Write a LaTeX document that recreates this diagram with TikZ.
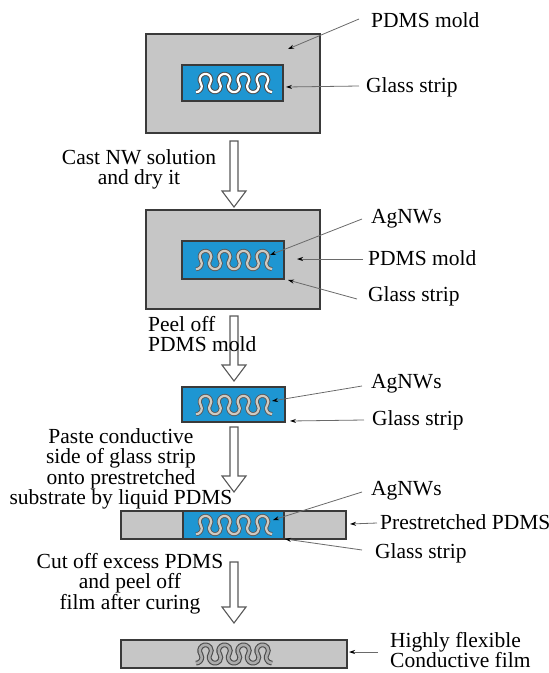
\documentclass[tikz,border=0pt]{standalone}
\usepackage{fontspec}
\setmainfont{Liberation Serif}
\usetikzlibrary{arrows.meta,calc}
\definecolor{pdms}{HTML}{C6C6C6}
\definecolor{glass}{HTML}{1E96D2}
\definecolor{edge}{HTML}{3A3A3A}
\definecolor{connc}{HTML}{6A6A6A}
\definecolor{nwlight}{HTML}{CFCAC2}
\newcommand{\wavy}[3]{%
  \begin{scope}[shift={(#1,#2)},yscale=-1]
    \draw[#3] (-38,-9.13) arc[start angle=270,end angle=395,radius=5.8]
      arc[start angle=215,end angle=-35,radius=5.8] arc[start angle=145,end angle=395,radius=5.8]
      arc[start angle=215,end angle=-35,radius=5.8] arc[start angle=145,end angle=395,radius=5.8]
      arc[start angle=215,end angle=-35,radius=5.8] arc[start angle=145,end angle=395,radius=5.8]
      arc[start angle=215,end angle=-35,radius=5.8] arc[start angle=145,end angle=270,radius=5.8];
  \end{scope}}
\newcommand{\hollowarrow}[3]{%
  \draw[harrow] (#1-4,#2) -- (#1+4,#2) -- (#1+4,#3-16) -- (#1+12,#3-16) -- (#1,#3)
    -- (#1-12,#3-16) -- (#1-4,#3-16) -- cycle;}
\begin{document}
\begin{tikzpicture}[x=1pt,y=-1pt,font=\fontsize{21.5}{20.5}\selectfont,
  pdmsbox/.style={fill=pdms,draw=edge,line width=1.4pt},
  glassbox/.style={fill=glass,draw=edge,line width=1.4pt},
  wave1/.style={draw=gray!60!black,double=white,line width=1pt,double distance=2.2pt},
  wave2/.style={draw=gray!70!black,double=nwlight,line width=0.9pt,double distance=2.2pt},
  wave3/.style={draw=black!70,double=gray!65,line width=1.1pt,double distance=2.6pt},
  conn/.style={draw=connc,line width=0.8pt,-{Stealth[length=6pt,width=4pt,black]}},
  harrow/.style={draw=gray!70!black,fill=white,line width=1.1pt,line join=miter},
  lbl/.style={inner sep=0pt,text height=14pt,text depth=0pt,anchor=west},
  note/.style={inner sep=0pt,anchor=north,align=center}]
\useasboundingbox (0,0) rectangle (549,673);

% Panel 1
\draw[pdmsbox] (146,34) rectangle (320,133);
\draw[glassbox] (182,65) rectangle (283,101);
\wavy{234}{83}{wave1}
\coordinate (t1a) at (288,49);
\coordinate (t1b) at (286,87);
\node[lbl] (l1a) at (371,20) {PDMS mold};
\node[lbl] (l1b) at (366,85) {Glass strip};
\draw[conn] ($(l1a.west)+(-12,-1)$) -- (t1a);
\draw[conn] ($(l1b.west)+(-7,1)$) -- (t1b);

\hollowarrow{234}{141}{207}
\node[note] (s1) at (139,149) {Cast NW solution\\and dry it};

% Panel 2
\draw[pdmsbox] (146,210) rectangle (320,309);
\draw[glassbox] (182,241) rectangle (284,279);
\wavy{234}{260}{wave2}
\coordinate (t2a) at (270,255);
\coordinate (t2b) at (297,259);
\coordinate (t2c) at (288,280);
\node[lbl] (l2a) at (371,216) {AgNWs};
\node[lbl] (l2b) at (368,258) {PDMS mold};
\node[lbl] (l2c) at (368,294) {Glass strip};
\draw[conn] ($(l2a.west)+(-9,3)$) -- (t2a);
\draw[conn] ($(l2b.west)+(-5,1)$) -- (t2b);
\draw[conn] ($(l2c.west)+(-11,5)$) -- (t2c);

\hollowarrow{234}{316}{381}
\node[note,anchor=north west,align=left] (s2) at (148,316) {Peel off\\PDMS mold};

% Panel 3
\draw[glassbox] (182,387) rectangle (285,422);
\wavy{234}{405}{wave2}
\coordinate (t3a) at (272,401);
\coordinate (t3b) at (290,421);
\node[lbl] (l3a) at (371,381) {AgNWs};
\node[lbl] (l3b) at (372,418) {Glass strip};
\draw[conn] ($(l3a.west)+(-9,5)$) -- (t3a);
\draw[conn] ($(l3b.west)+(-8,2)$) -- (t3b);

\hollowarrow{234}{427}{492}
\node[note] (s3) at (121,428) {Paste conductive\\side of glass strip\\onto prestretched\\substrate by liquid PDMS};

% Panel 4
\draw[pdmsbox] (121,511) rectangle (346,539);
\draw[glassbox] (183,511) rectangle (284,539);
\wavy{234}{525}{wave2}
\coordinate (t4a) at (273,520);
\coordinate (t4b) at (350,524);
\coordinate (t4c) at (285,539);
\node[lbl] (l4a) at (371,488) {AgNWs};
\node[lbl] (l4b) at (380,522) {Prestretched PDMS};
\node[lbl] (l4c) at (375,551) {Glass strip};
\draw[conn] ($(l4a.west)+(-9,4)$) -- (t4a);
\draw[conn] ($(l4b.west)+(-3,1)$) -- (t4b);
\draw[conn] ($(l4c.west)+(-13,-1)$) -- (t4c);

\hollowarrow{234}{562}{623}
\node[note] (s4) at (130,553) {Cut off excess PDMS\\and peel off\\film after curing};

% Panel 5
\draw[pdmsbox] (121,640) rectangle (347,668);
\wavy{234}{654}{wave3}
\coordinate (t5) at (349,652);
\node[anchor=west,inner sep=0pt,align=left] (l5) at (390,650) {Highly flexible\\Conductive film};
\draw[conn] ($(l5.west)+(-12,2)$) -- (t5);
\end{tikzpicture}
\end{document}
